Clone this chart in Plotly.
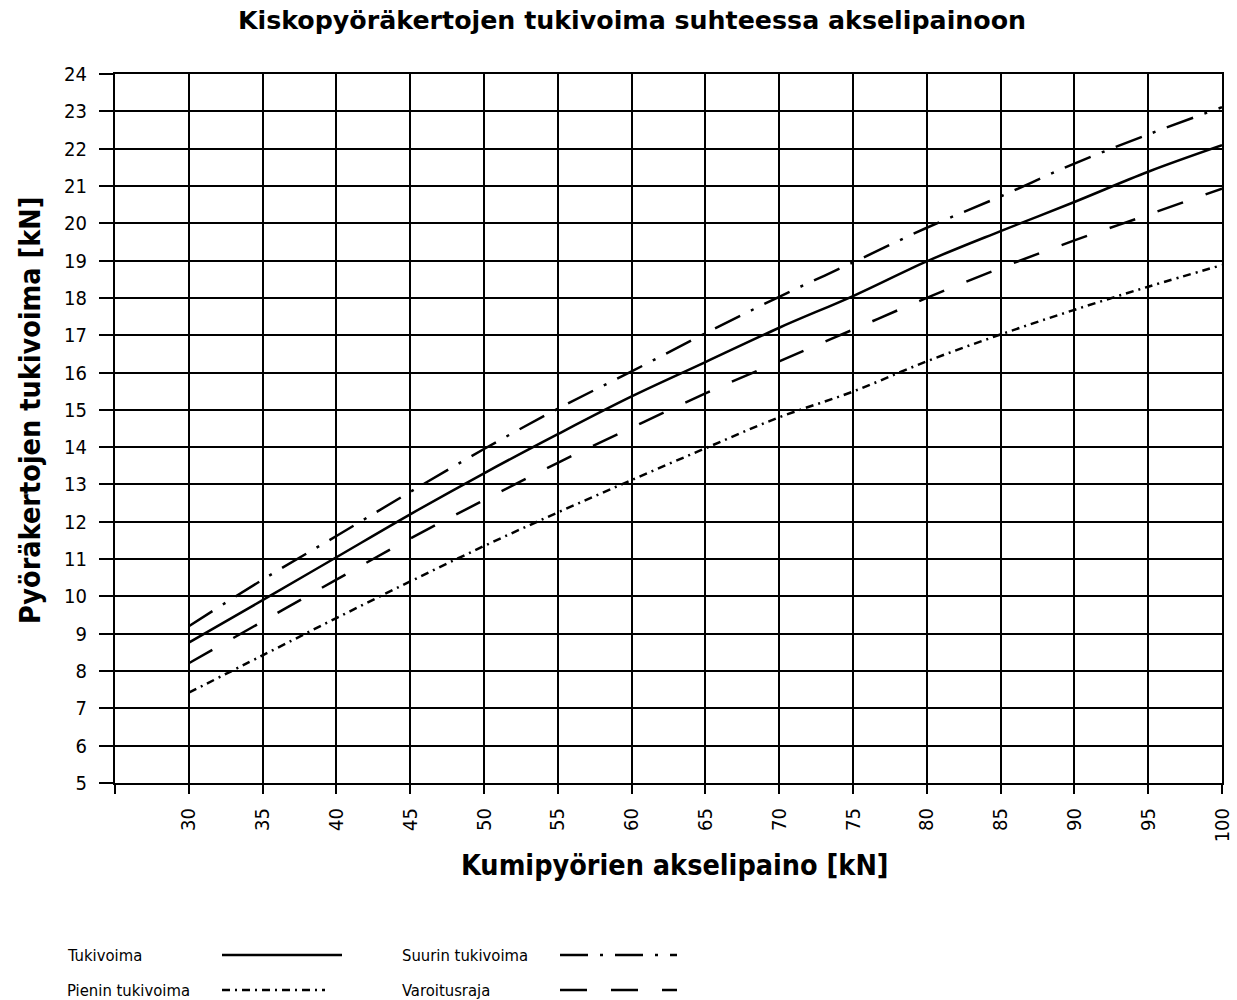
import plotly.graph_objects as go

x_vals = [30, 35, 40, 45, 50, 55, 60, 65, 70, 75, 80, 85, 90, 95, 100]
tukivoima = [8.76, 9.9, 11.05, 12.2, 13.3, 14.35, 15.36, 16.28, 17.2, 18.05, 18.98, 19.79, 20.57, 21.38, 22.09]
suurin = [9.2, 10.45, 11.62, 12.8, 13.95, 15.03, 16.03, 17.05, 18.03, 18.95, 19.88, 20.72, 21.6, 22.38, 23.11]
varoitus = [8.21, 9.33, 10.45, 11.55, 12.58, 13.58, 14.52, 15.44, 16.3, 17.15, 18.0, 18.8, 19.54, 20.23, 20.93]
pienin = [7.42, 8.42, 9.42, 10.4, 11.35, 12.25, 13.12, 13.97, 14.8, 15.49, 16.3, 17.02, 17.68, 18.3, 18.88]

x_ticks = [25, 30, 35, 40, 45, 50, 55, 60, 65, 70, 75, 80, 85, 90, 95, 100]
x_ticktext = [""] + [str(v) for v in x_ticks[1:]]
y_ticks = list(range(5, 25))

DASH_SUURIN = "28px,12px,3px,12px"
DASH_PIENIN = "8px,5px,2px,5px"
DASH_VAROITUS = "27px,24px"

series = [
    ("Tukivoima", tukivoima, "solid"),
    ("Suurin tukivoima", suurin, DASH_SUURIN),
    ("Pienin tukivoima", pienin, DASH_PIENIN),
    ("Varoitusraja", varoitus, DASH_VAROITUS),
]

FONT = "DejaVu Sans Condensed, DejaVu Sans, sans-serif"
FONT_W = "DejaVu Sans, sans-serif"

W, H = 1237, 1000
PL, PR, PT, PB = 115, 1222, 74, 783  # plot area in page pixels

fig = go.Figure()
for name, vals, dash in series:
    fig.add_trace(go.Scatter(x=x_vals, y=vals, mode="lines", name=name,
                             line=dict(color="black", width=2.5, dash=dash, shape="spline"),
                             showlegend=False))

def px2paper(px):
    return (px - PL) / float(PR - PL)

def py2paper(py):
    return (PB - py) / float(PB - PT)

leg = [
    ("Tukivoima", "solid", 65, 955, 222, 342),
    ("Pienin tukivoima", DASH_PIENIN, 65, 990, 222, 325),
    ("Suurin tukivoima", DASH_SUURIN, 400, 955, 560, 677),
    ("Varoitusraja", DASH_VAROITUS, 400, 990, 560, 677),
]
for text, dash, tx, ty, lx0, lx1 in leg:
    yp = py2paper(ty)
    fig.add_annotation(x=px2paper(tx), y=yp, xref="paper", yref="paper", text=text,
                       showarrow=False, xanchor="left", yanchor="middle",
                       font=dict(family=FONT, size=16.5, color="black"))
    fig.add_shape(type="line", xref="paper", yref="paper",
                  x0=px2paper(lx0), x1=px2paper(lx1), y0=yp, y1=yp,
                  line=dict(color="black", width=2.5, dash=dash))

# axis titles as annotations
fig.add_annotation(x=px2paper(30), y=py2paper(410), xref="paper", yref="paper",
                   text="<b>Pyöräkertojen tukivoima [kN]</b>", textangle=-90,
                   showarrow=False, xanchor="center", yanchor="middle",
                   font=dict(family=FONT, size=28.5, color="black"))
fig.add_annotation(x=px2paper(675), y=py2paper(865), xref="paper", yref="paper",
                   text="<b>Kumipyörien akselipaino [kN]</b>",
                   showarrow=False, xanchor="center", yanchor="middle",
                   font=dict(family=FONT, size=28.5, color="black"))

fig.update_layout(
    width=W, height=H,
    margin=dict(l=PL, r=W - PR, t=PT, b=H - PB, autoexpand=False),
    paper_bgcolor="white", plot_bgcolor="white",
    font=dict(family=FONT, color="black"),
    title=dict(text="<b>Kiskopyöräkertojen tukivoima suhteessa akselipainoon</b>",
               x=632 / W, xanchor="center", y=1 - 20 / H, yanchor="middle",
               font=dict(family=FONT_W, size=25.3, color="black")),
)
fig.update_xaxes(range=[25, 100], tickvals=x_ticks, ticktext=x_ticktext, tickangle=-90,
                 showgrid=True, gridcolor="black", gridwidth=2,
                 showline=True, linecolor="black", linewidth=2, mirror=True,
                 ticks="outside", ticklen=9, tickwidth=2, tickcolor="black",
                 ticklabelstandoff=6, automargin=False,
                 tickfont=dict(family=FONT, size=20, color="black"),
                 zeroline=False)
fig.update_yaxes(range=[5, 24], tickvals=y_ticks,
                 showgrid=True, gridcolor="black", gridwidth=2,
                 showline=True, linecolor="black", linewidth=2, mirror=True,
                 ticks="outside", ticklen=14, tickwidth=2, tickcolor="black",
                 ticklabelstandoff=8, automargin=False,
                 tickfont=dict(family=FONT, size=20, color="black"),
                 zeroline=False)

fig.write_html("out.html", config={"displayModeBar": False},
               post_script="document.body.style.margin='0';document.body.style.overflow='hidden';")
